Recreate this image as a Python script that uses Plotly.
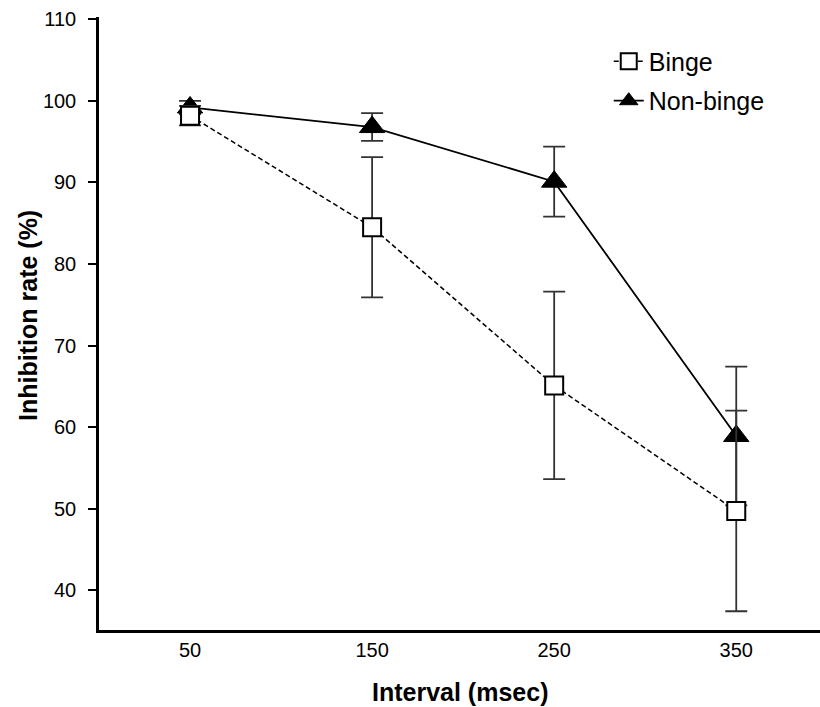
import plotly.graph_objects as go

intervals = [50, 150, 250, 350]
binge_mean = [98.2, 84.5, 65.1, 49.7]
binge_err = [1.2, 8.6, 11.5, 12.3]
nonbinge_mean = [99.2, 96.8, 90.1, 58.9]
nonbinge_err = [0.8, 1.7, 4.3, 8.5]
y_ticks = [40, 50, 60, 70, 80, 90, 100, 110]
x_ticks = [50, 150, 250, 350]

FONT = "Liberation Sans, Arial, Helvetica, sans-serif"

fig = go.Figure()

fig.add_trace(go.Scatter(
    x=intervals, y=nonbinge_mean, name="Non-binge", mode="lines+markers",
    line=dict(color="black", width=1.8),
    marker=dict(symbol="triangle-up", size=22, color="black",
                line=dict(color="black", width=1)),
    error_y=dict(type="data", array=nonbinge_err, visible=True,
                 color="#333333", thickness=1.8, width=11),
    legendrank=2, legendgroup="b",
))

fig.add_trace(go.Scatter(
    x=intervals, y=binge_mean, name="Binge", mode="lines+markers",
    line=dict(color="black", width=1.5, dash="5px,3px"),
    marker=dict(symbol="square", size=18, color="white",
                line=dict(color="black", width=2)),
    error_y=dict(type="data", array=binge_err, visible=True,
                 color="#333333", thickness=1.8, width=11),
    legendrank=1, legendgroup="a",
))

fig.update_layout(
    width=820, height=707,
    margin=dict(l=99, r=0, t=17, b=77),
    paper_bgcolor="white", plot_bgcolor="white",
    font=dict(family=FONT, color="black", size=20),
    showlegend=True,
    legend=dict(x=0.707, y=0.965, xanchor="left", yanchor="top",
                font=dict(size=25, family=FONT), bgcolor="rgba(0,0,0,0)",
                tracegroupgap=4),
    xaxis=dict(range=[0, 396], tickvals=x_ticks, ticktext=[str(v) for v in x_ticks],
               showline=True, linecolor="black", linewidth=2.5,
               ticks="", showgrid=False, zeroline=False,
               tickfont=dict(size=20)),
    yaxis=dict(range=[35.1, 110.3], tickvals=y_ticks, ticktext=[str(v) for v in y_ticks],
               showline=True, linecolor="black", linewidth=2.5,
               ticks="outside", ticklen=8, tickwidth=2, tickcolor="black",
               showgrid=False, zeroline=False, ticklabelstandoff=8,
               tickfont=dict(size=20)),
    annotations=[
        dict(text="<b>Interval (msec)</b>", xref="paper", yref="paper",
             x=0.5, y=-0.101, xanchor="center", yanchor="middle",
             showarrow=False, font=dict(size=25, family=FONT)),
        dict(text="<b>Inhibition rate (%)</b>", xref="paper", yref="paper",
             x=-0.0985, y=0.514, xanchor="center", yanchor="middle",
             textangle=-90, showarrow=False, font=dict(size=25, family=FONT)),
    ],
)

fig.write_html("out.html")
